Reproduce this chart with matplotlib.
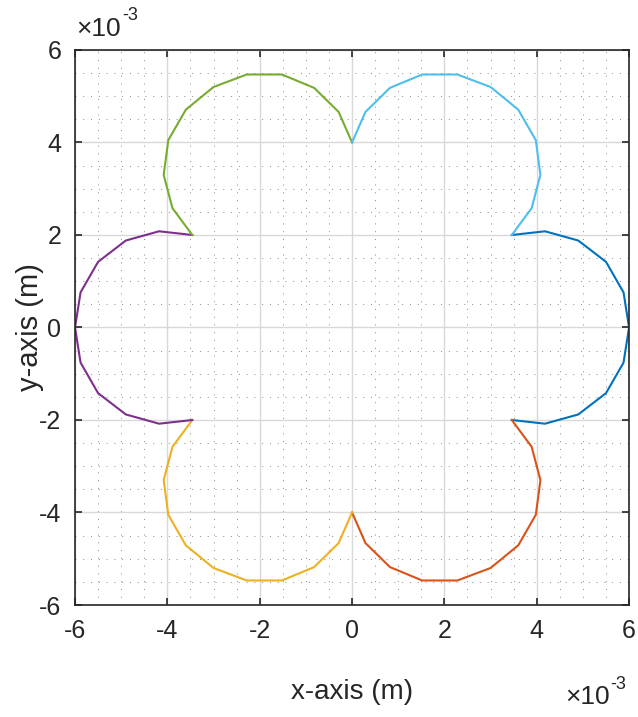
import matplotlib
matplotlib.use("Agg")
import matplotlib.pyplot as plt
from matplotlib.ticker import MultipleLocator

# Coordinates are in units of 1e-3 m (axis exponent shown as x10^-3)
# Right lobe
right_x = [3.46, 4.18, 4.90, 5.50, 5.88, 6.00, 5.88, 5.50, 4.90, 4.18, 3.46]
right_y = [2.00, 2.08, 1.88, 1.42, 0.76, 0.00, -0.76, -1.42, -1.88, -2.08, -2.00]
# Lower-right lobe
lower_right_x = [3.46, 3.89, 4.08, 3.98, 3.60, 3.00, 2.28, 1.52, 0.82, 0.29, 0.00]
lower_right_y = [-2.00, -2.58, -3.30, -4.05, -4.71, -5.20, -5.47, -5.47, -5.18, -4.66, -4.00]
# Lower-left lobe
lower_left_x = [0.00, -0.29, -0.82, -1.52, -2.28, -3.00, -3.60, -3.98, -4.08, -3.89, -3.46]
lower_left_y = [-4.00, -4.66, -5.18, -5.47, -5.47, -5.20, -4.71, -4.05, -3.30, -2.58, -2.00]
# Left lobe
left_x = [-3.46, -4.18, -4.90, -5.50, -5.88, -6.00, -5.88, -5.50, -4.90, -4.18, -3.46]
left_y = [-2.00, -2.08, -1.88, -1.42, -0.76, 0.00, 0.76, 1.42, 1.88, 2.08, 2.00]
# Upper-left lobe
upper_left_x = [-3.46, -3.89, -4.08, -3.98, -3.60, -3.00, -2.28, -1.52, -0.82, -0.29, 0.00]
upper_left_y = [2.00, 2.58, 3.30, 4.05, 4.71, 5.20, 5.47, 5.47, 5.18, 4.66, 4.00]
# Upper-right lobe
upper_right_x = [0.00, 0.29, 0.82, 1.52, 2.28, 3.00, 3.60, 3.98, 4.08, 3.89, 3.46]
upper_right_y = [4.00, 4.66, 5.18, 5.47, 5.47, 5.20, 4.71, 4.05, 3.30, 2.58, 2.00]

lobes = [
    (right_x, right_y),
    (lower_right_x, lower_right_y),
    (lower_left_x, lower_left_y),
    (left_x, left_y),
    (upper_left_x, upper_left_y),
    (upper_right_x, upper_right_y),
]
colors = ["#0072BD", "#D95319", "#EDB120", "#7E2F8E", "#77AC30", "#4DBEEE"]

ticks = [-6, -4, -2, 0, 2, 4, 6]
tick_labels = ["-6", "-4", "-2", "0", "2", "4", "6"]

plt.rcParams["font.family"] = ["Liberation Sans", "DejaVu Sans"]

fig = plt.figure(figsize=(6.38, 7.17), dpi=100)
ax = fig.add_axes([0.1176, 0.1562, 0.8684, 0.7741])

for (xs, ys), c in zip(lobes, colors):
    ax.plot(xs, ys, color=c, lw=1.5, solid_joinstyle="round")

ax.set_xlim(-6, 6)
ax.set_ylim(-6, 6)
ax.set_xticks(ticks)
ax.set_yticks(ticks)
ax.set_xticklabels(tick_labels)
ax.set_yticklabels(tick_labels)
ax.xaxis.set_minor_locator(MultipleLocator(0.5))
ax.yaxis.set_minor_locator(MultipleLocator(0.5))

ax.grid(True, which="major", color="#d8d8d8", lw=1.0)
ax.grid(True, which="minor", color="#8a8a8a", lw=0.7, linestyle=(0, (1, 7)))
ax.set_axisbelow(True)

ax.tick_params(which="major", direction="in", length=5, width=1.2, color="#262626",
               top=True, right=True, labelsize=18, labelcolor="#262626", pad=10)
ax.tick_params(which="minor", length=0, top=True, right=True)
for s in ax.spines.values():
    s.set_color("#262626")
    s.set_linewidth(1.2)

ax.set_xlabel("x-axis (m)", fontsize=20, color="#262626", labelpad=26)
ax.set_ylabel("y-axis (m)", fontsize=21, color="#262626", labelpad=-4)

# Axis exponent markers
fig.text(0.120, 0.943, "\u00d710", fontsize=19, color="#262626", ha="left", va="bottom")
fig.text(0.191, 0.966, "-3", fontsize=13, color="#262626", ha="left", va="bottom")
fig.text(0.886, 0.011, "\u00d710", fontsize=19, color="#262626", ha="left", va="bottom")
fig.text(0.957, 0.034, "-3", fontsize=13, color="#262626", ha="left", va="bottom")

fig.savefig("out.png", dpi=100)
